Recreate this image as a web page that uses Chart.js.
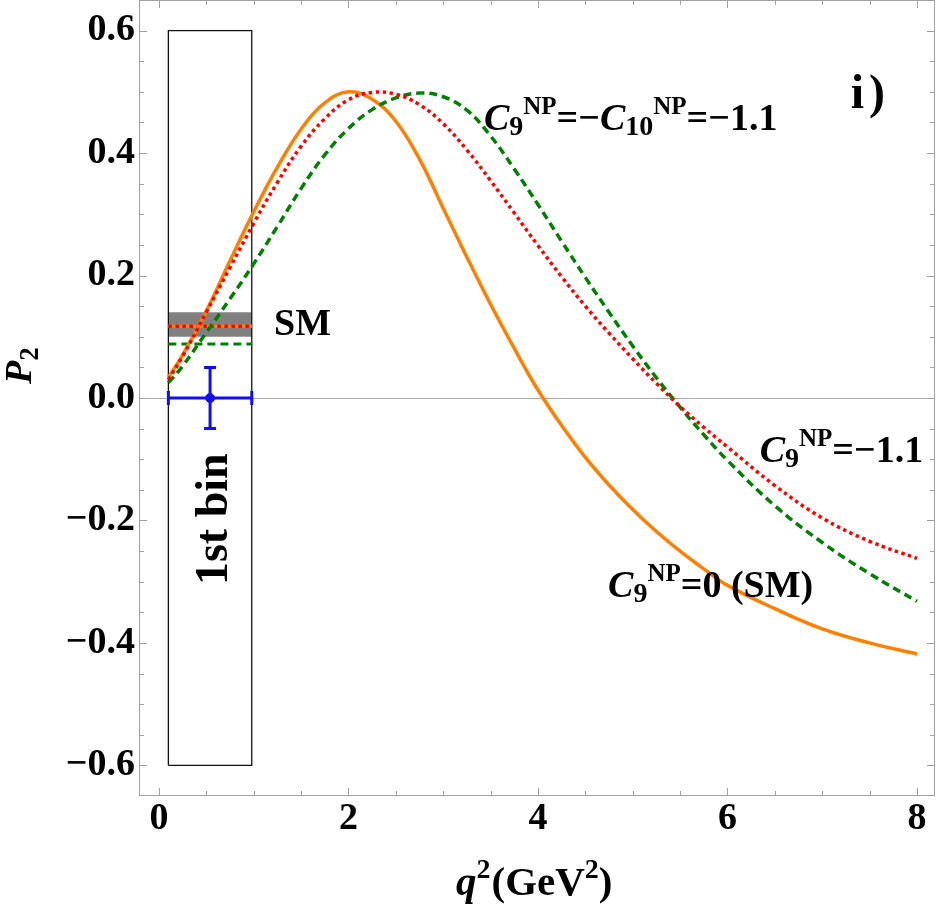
<!DOCTYPE html>
<html>
<head>
<meta charset="utf-8">
<script src="https://cdn.jsdelivr.net/npm/chart.js@4.4.1/dist/chart.umd.min.js"></script>
<style>
  html, body { margin: 0; padding: 0; background: #fff; }
  #wrap { width: 937px; height: 905px; }
</style>
</head>
<body>
<div id="wrap"><canvas id="p2Chart" width="937" height="905"></canvas></div>
<script>
// q^2 grid (GeV^2) and P2 values
const q2 = [0.1, 0.25, 0.5, 0.75, 1.0, 1.25, 1.5, 1.75, 2.0, 2.25, 2.5, 2.75, 3.0, 3.25, 3.5,
            3.75, 4.0, 4.25, 4.5, 4.75, 5.0, 5.25, 5.5, 5.75, 6.0, 6.5, 7.0, 7.5, 8.0];
// C9NP = 0 (SM), orange
const p2SM = [0.034, 0.070, 0.142, 0.224, 0.304, 0.377, 0.439, 0.482, 0.500, 0.488, 0.452, 0.390, 0.310, 0.230, 0.153,
              0.081, 0.013, -0.045, -0.097, -0.142, -0.182, -0.218, -0.250, -0.279, -0.306, -0.344, -0.377, -0.400, -0.418];
// C9NP = -1.1, red
const p2C9 = [0.030, 0.068, 0.140, 0.213, 0.285, 0.352, 0.411, 0.456, 0.487, 0.499, 0.496, 0.479, 0.448, 0.405, 0.355,
              0.302, 0.249, 0.198, 0.150, 0.106, 0.064, 0.024, -0.014, -0.048, -0.080, -0.143, -0.196, -0.234, -0.262];
// C9NP = -C10NP = -1.1, green
const p2C9C10 = [0.025, 0.052, 0.107, 0.162, 0.219, 0.280, 0.342, 0.397, 0.440, 0.471, 0.490, 0.498, 0.492, 0.470, 0.428,
                 0.374, 0.316, 0.256, 0.197, 0.140, 0.085, 0.033, -0.015, -0.060, -0.102, -0.176, -0.236, -0.287, -0.332];

// first bin
const binEdges = [0.1, 0.98];
const binBox = [-0.6, 0.6];
const smBand = [0.10, 0.14];
const binSM = 0.117;
const binC9 = 0.117;
const binC9C10 = 0.088;

// measurement
const measX = [0.54];
const measY = [0.0];
const measYErr = [0.05];

// ticks
const xTickValues = [0, 0.5, 1, 1.5, 2, 2.5, 3, 3.5, 4, 4.5, 5, 5.5, 6, 6.5, 7, 7.5, 8];
const xTickLabels = { 0: '0', 2: '2', 4: '4', 6: '6', 8: '8' };
const yTickValues = [-0.6, -0.55, -0.5, -0.45, -0.4, -0.35, -0.3, -0.25, -0.2, -0.15, -0.1, -0.05, 0,
                     0.05, 0.1, 0.15, 0.2, 0.25, 0.3, 0.35, 0.4, 0.45, 0.5, 0.55, 0.6];
const yTickLabels = ['\u22120.6', '\u22120.4', '\u22120.2', '0.0', '0.2', '0.4', '0.6'];
const yLabelValues = [-0.6, -0.4, -0.2, 0, 0.2, 0.4, 0.6];

const serif = '"Liberation Serif", "Times New Roman", serif';
const ORANGE = '#ff8000';
const RED = '#ff0000';
const GREEN = '#008000';
const BLUE = '#1010e8';
const FRAME = '#a0a0a0';

const pts = (xs, ys) => xs.map((x, i) => ({ x: x, y: ys[i] }));
const flat = (y) => [{ x: binEdges[0], y: y }, { x: binEdges[1], y: y }];

// rich text runs (italic / sub / superscript)
const B = 38, SUB = 28, SUP = 25;
const c9 = [{ t: 'C', it: true, s: B }, { t: '9', s: SUB, dy: 5 }, { t: 'NP', s: SUP, dy: -16 }];
const c10 = [{ t: 'C', it: true, s: B }, { t: '10', s: SUB, dy: 5 }, { t: 'NP', s: SUP, dy: -16 }];
const txt = (t) => ({ t: t, s: B });

const notes = [
    { x: 3.43, y: 0.438, runs: [...c9, txt('=\u2212'), ...c10, txt('=\u22121.1')] },
    { x: 6.34, y: -0.104, runs: [...c9, txt('=\u22121.1')] },
    { x: 4.74, y: -0.325, runs: [...c9, txt('=0 (SM)')] },
    { x: 1.215, y: 0.103, runs: [txt('SM')] },
    { x: 7.30, y: 0.474, runs: [{ t: 'i', s: 48, gap: 5 }, { t: ')', s: 48 }] }
];

const drawRuns = (ctx, x, y, runs) => {
    let cx = x;
    runs.forEach(r => {
        ctx.font = (r.it ? 'italic ' : '') + 'bold ' + r.s + 'px ' + serif;
        ctx.fillText(r.t, cx, y + (r.dy || 0));
        cx += ctx.measureText(r.t).width + (r.gap || 0);
    });
};

// frame, inward ticks, error bars and labels
const framePlugin = {
    id: 'frame',
    beforeDatasetsDraw(chart) {
        const { ctx, chartArea: a, scales: { x, y } } = chart;
        ctx.save();
        ctx.strokeStyle = FRAME;
        ctx.lineWidth = 1;
        ctx.strokeRect(a.left + 0.5, a.top + 0.5, a.right - a.left - 1, a.bottom - a.top - 1);
        ctx.beginPath();
        xTickValues.forEach(v => {
            const px = Math.round(x.getPixelForValue(v)) + 0.5;
            const len = (v in xTickLabels) ? 8 : 5;
            ctx.moveTo(px, a.bottom); ctx.lineTo(px, a.bottom - len);
            ctx.moveTo(px, a.top); ctx.lineTo(px, a.top + len);
        });
        yTickValues.forEach(v => {
            const py = Math.round(y.getPixelForValue(v)) + 0.5;
            const major = yLabelValues.some(m => Math.abs(m - v) < 1e-6);
            const len = major ? 8 : 5;
            ctx.moveTo(a.left, py); ctx.lineTo(a.left + len, py);
            ctx.moveTo(a.right, py); ctx.lineTo(a.right - len, py);
        });
        ctx.stroke();
        ctx.restore();
    },
    afterDatasetsDraw(chart) {
        const { ctx, scales: { x, y } } = chart;
        ctx.save();
        ctx.strokeStyle = BLUE;
        ctx.lineWidth = 3;
        measX.forEach((mx, i) => {
            const cx = x.getPixelForValue(mx);
            const cy = y.getPixelForValue(measY[i]);
            const x0 = x.getPixelForValue(binEdges[0]);
            const x1 = x.getPixelForValue(binEdges[1]);
            const yt = y.getPixelForValue(measY[i] + measYErr[i]);
            const yb = y.getPixelForValue(measY[i] - measYErr[i]);
            ctx.beginPath();
            ctx.moveTo(x0, cy); ctx.lineTo(x1, cy);
            ctx.moveTo(x0, cy - 7); ctx.lineTo(x0, cy + 7);
            ctx.moveTo(x1, cy - 7); ctx.lineTo(x1, cy + 7);
            ctx.moveTo(cx, yt); ctx.lineTo(cx, yb);
            ctx.moveTo(cx - 6, yt); ctx.lineTo(cx + 6, yt);
            ctx.moveTo(cx - 6, yb); ctx.lineTo(cx + 6, yb);
            ctx.stroke();
        });

        ctx.fillStyle = '#000';
        ctx.textBaseline = 'alphabetic';
        ctx.textAlign = 'left';
        notes.forEach(n => drawRuns(ctx, x.getPixelForValue(n.x), y.getPixelForValue(n.y), n.runs));

        ctx.save();
        ctx.translate(x.getPixelForValue(0.54) + 17, y.getPixelForValue(-0.198));
        ctx.rotate(-Math.PI / 2);
        ctx.textAlign = 'center';
        ctx.font = 'bold 46px ' + serif;
        ctx.fillText('1st bin', 0, 0);
        ctx.restore();
        ctx.restore();
    },
    afterDraw(chart) {
        const { ctx } = chart;
        ctx.save();
        ctx.fillStyle = '#000';
        ctx.textBaseline = 'alphabetic';
        ctx.save();
        ctx.translate(31, 384);
        ctx.rotate(-Math.PI / 2);
        drawRuns(ctx, 0, 0, [{ t: 'P', it: true, s: 38 }, { t: '2', s: 27, dy: 7 }]);
        ctx.restore();
        const runs = [{ t: 'q', it: true, s: 41 }, { t: '2', s: 28, dy: -17, gap: 1 }, { t: '(GeV', s: 41 },
                      { t: '2', s: 28, dy: -17 }, { t: ')', s: 41 }];
        drawRuns(ctx, 456, 895, runs);
        ctx.restore();
    }
};

const curve = { tension: 0.4, cubicInterpolationMode: 'default' };

new Chart(document.getElementById('p2Chart'), {
    type: 'line',
    data: {
        datasets: [
            { data: pts(q2, p2C9), borderColor: RED, borderWidth: 3.5, borderDash: [3.5, 3.5], order: 1, ...curve },
            { data: pts(q2, p2C9C10), borderColor: GREEN, borderWidth: 3.5, borderDash: [8, 5], order: 2, ...curve },
            { data: pts(q2, p2SM), borderColor: ORANGE, borderWidth: 3.5, order: 3, ...curve },
            { data: flat(binC9), borderColor: RED, borderWidth: 3.5, borderDash: [3.5, 3.5], order: 4 },
            { data: flat(binSM), borderColor: ORANGE, borderWidth: 3.5, order: 5 },
            { data: flat(binC9C10), borderColor: GREEN, borderWidth: 3, borderDash: [8, 5], order: 6 },
            { type: 'scatter', data: pts(measX, measY), backgroundColor: BLUE, borderColor: BLUE, pointRadius: 4.5, order: 0 },
            { data: [{ x: binEdges[0], y: binBox[0] }, { x: binEdges[1], y: binBox[0] }, { x: binEdges[1], y: binBox[1] },
                     { x: binEdges[0], y: binBox[1] }, { x: binEdges[0], y: binBox[0] }],
              borderColor: '#111', borderWidth: 1.3, order: 7 },
            { data: flat(smBand[0]), borderWidth: 0, order: 9 },
            { data: flat(smBand[1]), borderWidth: 0, fill: '-1', backgroundColor: '#808080', order: 8 }
        ]
    },
    options: {
        responsive: false,
        animation: false,
        devicePixelRatio: 1,
        layout: { autoPadding: false, padding: { top: 0, right: 2, left: 0, bottom: 0 } },
        elements: {
            point: { radius: 0 },
            line: { tension: 0, fill: false }
        },
        plugins: { legend: { display: false }, tooltip: { enabled: false } },
        scales: {
            x: {
                type: 'linear',
                min: -0.21,
                max: 8.19,
                afterBuildTicks: (s) => { s.ticks = xTickValues.map(v => ({ value: v })); },
                afterFit: (s) => { s.height = 109; s.paddingLeft = 0; s.paddingRight = 0; },
                ticks: {
                    autoSkip: false,
                    maxRotation: 0,
                    padding: 0,
                    color: '#000',
                    font: { family: serif, size: 38, weight: 'bold' },
                    callback: (v) => xTickLabels[v] || ''
                },
                grid: { display: false, drawTicks: false },
                border: { display: false }
            },
            y: {
                min: -0.65,
                max: 0.65,
                afterBuildTicks: (s) => { s.ticks = yTickValues.map(v => ({ value: v })); },
                afterFit: (s) => { s.width = 139; s.paddingTop = 0; s.paddingBottom = 0; },
                ticks: {
                    autoSkip: false,
                    padding: 4,
                    color: '#000',
                    font: { family: serif, size: 38, weight: 'bold' },
                    callback: (v) => {
                        const i = yLabelValues.findIndex(m => Math.abs(m - v) < 1e-6);
                        return i >= 0 ? yTickLabels[i] : '';
                    }
                },
                grid: {
                    drawTicks: false,
                    lineWidth: 1,
                    color: (c) => (c.tick && Math.abs(c.tick.value) < 1e-9 ? '#aaaaaa' : 'rgba(0,0,0,0)')
                },
                border: { display: false }
            }
        }
    },
    plugins: [framePlugin]
});
</script>
</body>
</html>
